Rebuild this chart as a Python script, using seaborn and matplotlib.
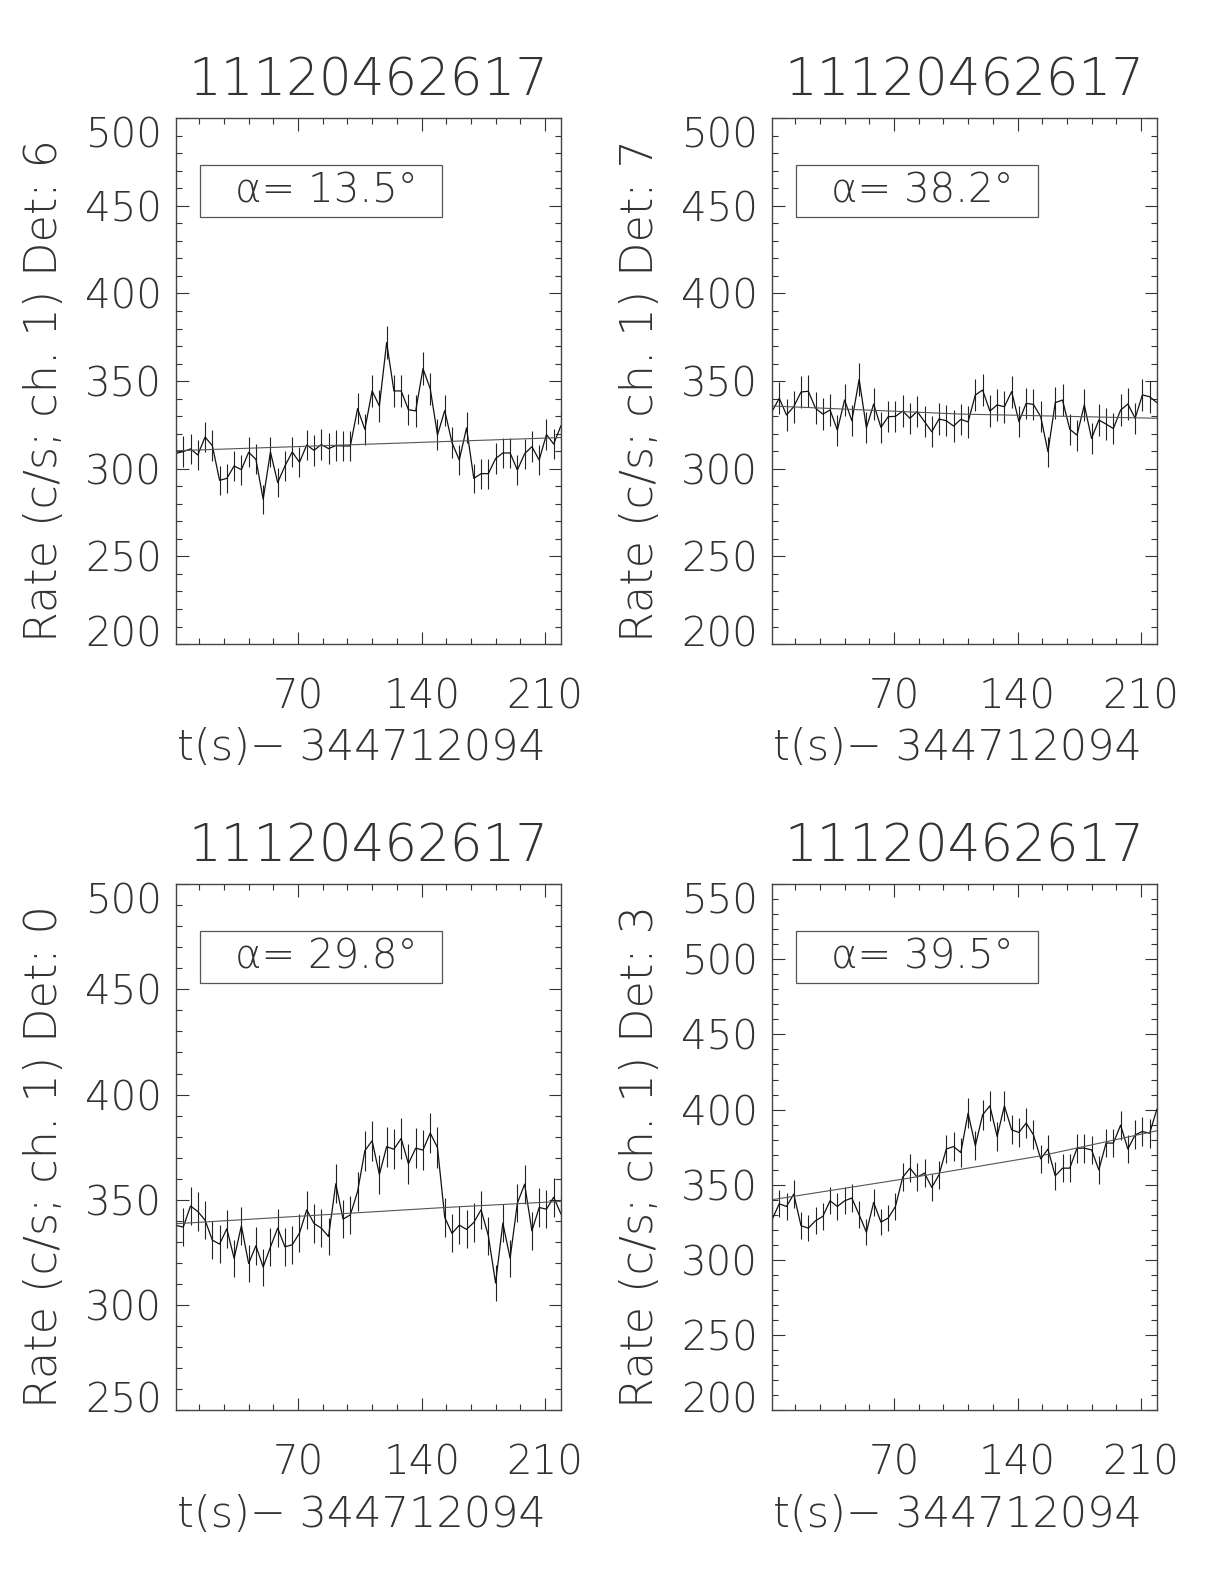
import numpy as np
import pandas as pd
import seaborn as sns
import matplotlib.pyplot as plt
from matplotlib.ticker import MultipleLocator
from matplotlib.patches import Rectangle
from matplotlib.transforms import ScaledTranslation

# time bins (s after 344712094)
T0 = 0.8
DT = 4.117
N_BINS = 54
t = T0 + DT * np.arange(N_BINS)

title = '11120462617'
detectors = ['6', '7', '0', '3']
alpha_deg = ['13.5', '38.2', '29.8', '39.5']
ylims = [(200, 500), (200, 500), (250, 500), (200, 550)]

rate_det6 = [308.8, 309.8, 311.3, 307.9, 318.1, 313.2, 293.4, 294.5, 301.6, 299.5,
             309.4, 305.4, 282.6, 309.6, 292.1, 301.6, 309.6, 303.7, 313.6, 310.5,
             313.8, 311.5, 313.2, 313.0, 313.0, 334.3, 322.5, 344.4, 335.8, 372.0,
             344.4, 344.4, 333.7, 333.0, 357.1, 345.7, 319.3, 333.2, 314.9, 305.0,
             323.3, 294.5, 297.2, 297.2, 305.8, 309.0, 309.0, 299.3, 308.6, 312.6,
             305.0, 319.5, 314.1, 324.6]
rate_det7 = [332.6, 340.2, 330.7, 335.4, 343.8, 344.2, 334.5, 331.2, 333.5, 322.1,
             339.2, 327.4, 351.0, 323.4, 336.9, 323.6, 329.7, 329.9, 332.9, 328.8,
             332.7, 326.9, 321.1, 328.4, 327.4, 324.4, 328.2, 326.7, 342.1, 344.9,
             332.9, 336.4, 335.4, 344.0, 326.9, 337.3, 336.7, 329.7, 309.7, 337.7,
             339.2, 322.5, 319.2, 336.4, 317.3, 327.8, 325.5, 322.9, 333.5, 336.9,
             328.8, 342.1, 341.1, 337.7]
rate_det0 = [337.8, 337.0, 347.0, 344.4, 340.3, 330.8, 328.9, 336.2, 322.1, 337.6,
             319.7, 328.1, 318.0, 327.5, 336.5, 327.6, 328.6, 334.1, 345.2, 338.7,
             336.5, 332.5, 357.6, 340.8, 342.8, 353.9, 373.3, 378.0, 362.0, 375.2,
             374.0, 379.1, 367.1, 374.5, 373.6, 381.7, 374.8, 341.6, 334.0, 337.9,
             335.9, 339.2, 345.2, 332.9, 310.4, 338.9, 322.2, 348.4, 357.4, 335.2,
             346.3, 345.5, 351.2, 343.2]
rate_det3 = [326.6, 337.3, 335.5, 343.7, 322.7, 321.1, 326.0, 328.9, 339.3, 335.5,
             339.3, 341.1, 330.0, 318.4, 338.2, 325.1, 327.8, 335.5, 355.0, 361.0,
             355.0, 357.7, 348.2, 356.6, 373.7, 375.4, 371.4, 397.6, 375.9, 396.5,
             402.5, 382.1, 402.5, 386.5, 384.8, 391.0, 383.2, 367.2, 373.7, 355.9,
             361.0, 361.0, 374.3, 374.3, 373.2, 359.9, 377.7, 377.7, 389.6, 373.7,
             383.2, 385.4, 384.3, 400.3]
rates = [rate_det6, rate_det7, rate_det0, rate_det3]

# background fit, read at a few bins
bg_bins = [[0, 27, 53], [0, 26, 53], [0, 24, 37, 53], [0, 18, 37, 53]]
bg_vals = [[310.3, 314.1, 317.8], [335.8, 331.2, 328.8],
           [338.6, 343.6, 346.3, 349.2], [340.0, 353.7, 369.2, 385.9]]

sns.set_style('ticks')
plt.rcParams['font.family'] = ['DejaVu Sans']
plt.rcParams['font.weight'] = 'light'

INK = '#333333'
fig = plt.figure(figsize=(12.24, 15.84), dpi=100)
positions = [(0.1438, 0.5934), (0.6307, 0.5934), (0.1438, 0.1098), (0.6307, 0.1098)]
W, H = 0.3145, 0.332

for k in range(4):
    ax = fig.add_axes([positions[k][0], positions[k][1], W, H])
    rate = np.array(rates[k])
    df = pd.DataFrame({'t': t, 'rate': rate})
    err = np.sqrt(rate / DT)  # counting errors
    ax.vlines(t, rate - err, rate + err, color='#222222', lw=0.8)
    sns.lineplot(data=df, x='t', y='rate', ax=ax, color='#111111', lw=0.9, estimator=None)
    sns.lineplot(x=t[bg_bins[k]], y=bg_vals[k], ax=ax, color='#555555', lw=0.8)

    ax.set_xlim(t[0], t[-1])
    ax.set_ylim(*ylims[k])
    ax.xaxis.set_major_locator(MultipleLocator(70))
    ax.xaxis.set_minor_locator(MultipleLocator(14))
    ax.yaxis.set_major_locator(MultipleLocator(50))
    ax.yaxis.set_minor_locator(MultipleLocator(10))
    ax.tick_params(which='both', direction='in', top=True, right=True, colors=INK)
    ax.tick_params(which='major', length=9, width=0.8, labelsize=29)
    ax.tick_params(which='minor', length=4.5, width=0.8)
    ax.tick_params(axis='x', which='major', pad=24)
    ax.tick_params(axis='y', which='major', pad=10)
    for s in ax.spines.values():
        s.set_linewidth(1.0)
        s.set_color('#444444')

    # keep the end labels inside the axis range, as IDL does
    fig.canvas.draw()
    for tick in ax.yaxis.get_major_ticks():
        lab = tick.label1
        if abs(tick.get_loc() - ylims[k][0]) < 1e-6:
            lab.set_transform(lab.get_transform() + ScaledTranslation(0, 0.13, fig.dpi_scale_trans))
        elif abs(tick.get_loc() - ylims[k][1]) < 1e-6:
            lab.set_transform(lab.get_transform() + ScaledTranslation(0, -0.14, fig.dpi_scale_trans))

    ax.set_title(title, fontsize=37, color=INK, pad=16, fontweight='light')
    ax.set_xlabel('t(s)\u2212 344712094', fontsize=31, color=INK, labelpad=8, fontweight='light')
    ax.xaxis.label.set_x(0.482)
    ax.set_ylabel(f'Rate (c/s; ch. 1) Det: {detectors[k]}', fontsize=32, color=INK,
                  labelpad=14, fontweight='light')
    ax.yaxis.label.set_y(0.482)

    ax.add_patch(Rectangle((0.062, 0.812), 0.628, 0.099, transform=ax.transAxes,
                           fill=False, lw=0.9, ec='#555555'))
    ax.text(0.39, 0.862, f'\u03b1= {alpha_deg[k]}\u00b0', transform=ax.transAxes,
            ha='center', va='center', fontsize=29, color=INK, fontweight='light')

fig.savefig('out.png', dpi=100)
